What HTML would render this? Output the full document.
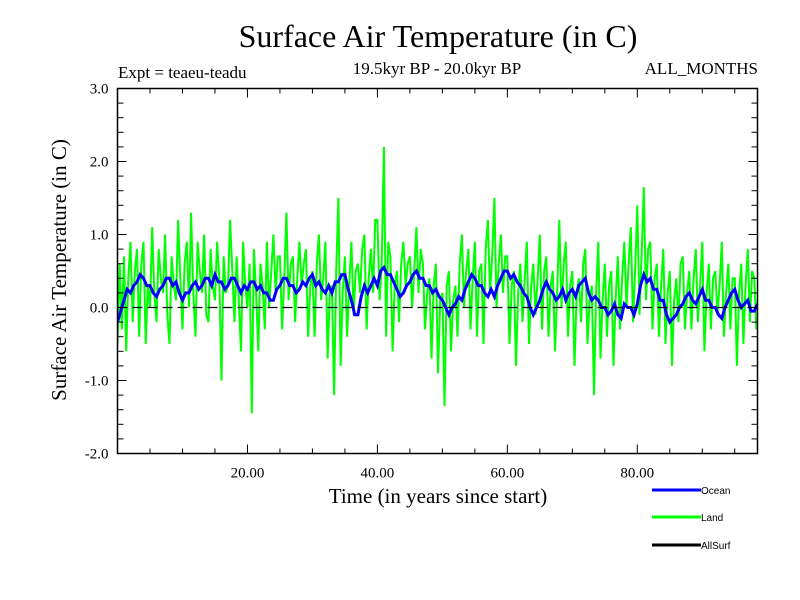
<!DOCTYPE html>
<html><head><meta charset="utf-8"><style>
body{margin:0;background:#fff}
svg{display:block}
</style></head><body>
<svg id="c" width="800" height="600" xmlns="http://www.w3.org/2000/svg">
<defs><clipPath id="pc"><rect x="117.5" y="88.5" width="640" height="365"/></clipPath></defs>
<rect width="800" height="600" fill="#fff"/>
<text x="438" y="47" font-family="Liberation Serif, serif" font-size="32" text-anchor="middle">Surface Air Temperature (in C)</text>
<text x="118" y="78" font-family="Liberation Serif, serif" font-size="17">Expt = teaeu-teadu</text>
<text x="437" y="74" font-family="Liberation Serif, serif" font-size="17" text-anchor="middle">19.5kyr BP - 20.0kyr BP</text>
<text x="758" y="74" font-family="Liberation Serif, serif" font-size="17" text-anchor="end">ALL_MONTHS</text>
<text x="438" y="503" font-family="Liberation Serif, serif" font-size="21" text-anchor="middle">Time (in years since start)</text>
<text transform="translate(66,270) rotate(-90)" font-family="Liberation Serif, serif" font-size="21" text-anchor="middle">Surface Air Temperature (in C)</text>
<g id="plot" clip-path="url(#pc)"></g>
<g id="axes"></g>
<g font-family="Liberation Sans, sans-serif" font-size="10">
<g><line x1="652" y1="490" x2="701" y2="490" stroke="#0000ff" stroke-width="3"/><text x="701" y="494">Ocean</text></g>
<g><line x1="652" y1="517" x2="701" y2="517" stroke="#00ff00" stroke-width="3"/><text x="701" y="521">Land</text></g>
<g><line x1="652" y1="545" x2="701" y2="545" stroke="#000" stroke-width="3"/><text x="701" y="549">AllSurf</text></g>
</g>
</svg>
<script>
const landStep = 1/3;
const landValues = [-0.5,0.6,-0.3,0.7,-0.6,0.4,0.9,-0.2,0.5,0.8,-0.4,0.6,0.9,-0.5,0.3,
0.0,1.1,0.2,-0.2,0.8,0.4,0.2,1.0,-0.1,-0.5,0.7,0.3,0.1,1.2,0.4,
-0.3,0.6,0.9,0.0,1.3,0.2,-0.4,0.9,0.5,0.2,1.0,-0.1,-0.2,0.8,0.3,
0.1,0.9,0.4,-1.0,0.7,0.2,0.3,1.2,0.5,-0.2,0.7,0.1,-0.6,0.9,0.3,
0.0,0.6,-1.45,0.8,0.2,-0.6,0.6,0.3,-0.3,0.9,0.0,0.5,1.0,0.2,0.7,
0.7,-0.3,0.4,1.3,0.1,0.6,0.7,-0.2,0.4,0.9,0.3,0.6,0.8,-0.4,0.3,
0.5,-0.4,0.6,1.0,0.1,0.4,0.9,-0.7,0.2,0.3,-1.2,0.5,1.5,-0.8,0.2,
0.7,-0.4,0.3,0.9,-0.1,0.5,0.6,0.2,0.8,1.0,-0.3,0.4,0.8,0.2,1.2,
1.2,0.1,0.6,2.2,-0.4,0.9,0.7,-0.6,0.3,0.5,-0.2,0.6,0.9,0.3,0.6,
0.7,0.0,0.5,1.1,0.2,0.8,0.6,-0.3,0.2,0.4,-0.7,0.3,0.6,-0.9,0.1,
0.2,-1.35,0.3,0.5,-0.6,0.1,0.3,-0.4,0.6,1.0,0.0,0.5,0.8,-0.3,0.4,
0.9,-0.4,0.5,0.6,-0.5,0.8,1.2,0.2,0.7,1.5,0.0,0.6,1.0,0.2,0.7,
0.7,-0.5,0.3,0.5,-0.8,0.2,0.6,-0.2,0.4,0.9,-0.5,0.3,0.6,-0.1,0.4,
1.0,-0.3,0.5,0.7,-0.4,0.3,0.5,-0.6,0.2,1.2,0.0,0.6,0.9,-0.4,0.3,
0.5,-0.8,0.2,0.4,-0.2,0.6,0.8,-0.5,0.1,0.3,-1.2,0.2,0.9,-0.7,0.1,
0.6,-0.4,0.3,0.5,-0.8,0.1,0.7,-0.3,0.4,0.9,0.0,0.6,1.1,-0.2,0.5,
1.4,-0.1,0.7,1.65,0.1,0.8,0.9,-0.3,0.4,0.6,-0.4,0.3,0.8,-0.5,0.2,
0.5,-0.8,0.1,0.4,-0.2,0.6,0.7,-0.3,0.2,0.5,-0.3,0.4,0.8,-0.2,0.3,
0.9,-0.6,0.2,0.6,-0.3,0.4,0.5,-0.1,0.3,0.9,-0.4,0.2,0.6,-0.3,0.4,
0.4,-0.8,0.2,0.6,-0.5,0.3,0.8,-0.2,0.5,0.4,-0.3];
const oceanStep = 0.5;
const oceanValues = [-0.2,-0.05,0.1,0.25,0.2,0.3,0.35,0.45,0.4,0.3,0.3,0.2,0.15,0.25,0.3,0.4,0.4,0.3,0.35,0.2,
0.1,0.2,0.2,0.3,0.35,0.25,0.3,0.4,0.4,0.3,0.45,0.35,0.35,0.25,0.3,0.4,0.4,0.3,0.2,0.3,
0.25,0.35,0.35,0.25,0.3,0.2,0.2,0.1,0.1,0.25,0.3,0.4,0.4,0.3,0.3,0.2,0.25,0.35,0.3,0.4,
0.45,0.3,0.35,0.25,0.2,0.3,0.2,0.35,0.35,0.45,0.45,0.25,0.1,-0.1,-0.1,0.15,0.3,0.2,0.3,0.4,
0.3,0.5,0.55,0.45,0.45,0.35,0.25,0.15,0.2,0.3,0.35,0.45,0.5,0.4,0.4,0.3,0.3,0.2,0.25,0.15,
0.1,0.0,-0.1,0.0,0.05,0.15,0.1,0.25,0.35,0.45,0.4,0.3,0.3,0.2,0.15,0.25,0.15,0.3,0.4,0.5,
0.5,0.4,0.45,0.35,0.3,0.2,0.15,0.0,-0.1,0.0,0.1,0.25,0.35,0.25,0.2,0.1,0.15,0.25,0.1,0.2,
0.25,0.15,0.3,0.35,0.4,0.2,0.1,0.15,0.1,0.0,0.0,-0.1,-0.05,0.05,-0.1,-0.15,0.05,0.0,0.0,-0.1,
0.05,0.3,0.45,0.35,0.4,0.25,0.25,0.1,0.1,-0.1,-0.2,-0.15,-0.1,0.0,0.05,0.15,0.2,0.1,0.05,0.15,
0.25,0.1,0.1,0.0,0.0,-0.1,-0.15,0.0,0.1,0.2,0.25,0.1,0.0,0.05,0.1,-0.05,-0.05,0.05];
const xTicks = [20,40,60,80];
const xTickLabels = ["20.00","40.00","60.00","80.00"];
const yTicks = [-2,-1,0,1,2,3];
const yTickLabels = ["-2.0","-1.0","0.0","1.0","2.0","3.0"];

const X0=117.5, X1=757.5, Y0=453.5, Y1=88.5, XMAX=98.5, YMIN=-2, YMAX=3;
const sx = v => X0 + v/XMAX*(X1-X0);
const sy = v => Y0 - (v-YMIN)/(YMAX-YMIN)*(Y0-Y1);
const NS="http://www.w3.org/2000/svg";
const plot=document.getElementById('plot'), axes=document.getElementById('axes');
function mk(tag, attrs, parent){const e=document.createElementNS(NS,tag);for(const k in attrs)e.setAttribute(k,attrs[k]);parent.appendChild(e);return e;}

function series(vals, step, color, w, name){
  const pts = vals.map((v,i)=>sx(i*step).toFixed(1)+','+sy(v).toFixed(1)).join(' ');
  const p = mk('polyline',{points:pts,fill:'none',stroke:color,'stroke-width':w,'stroke-linejoin':'miter'},plot);
  
  
}
series(landValues, landStep, '#00ff00', 2, 'land-series');
series(oceanValues, oceanStep, '#0000ff', 3, 'ocean-series');

const zl = mk('line',{x1:X0,x2:X1,y1:sy(0),y2:sy(0),stroke:'#000','stroke-dasharray':'10,5','stroke-width':1.2},plot);



const frame = mk('rect',{x:X0,y:Y1,width:X1-X0,height:Y0-Y1,fill:'none',stroke:'#000','stroke-width':1.5},axes);



for(let v=YMIN; v<=YMAX+1e-9; v+=0.2){
  const y=sy(v), major=Math.abs(v-Math.round(v))<1e-6, L=major?9:6;
  mk('line',{x1:X0,x2:X0+L,y1:y,y2:y,stroke:'#000'},axes);
  mk('line',{x1:X1,x2:X1-L,y1:y,y2:y,stroke:'#000'},axes);
}
yTicks.forEach((v,i)=>{
  const t=mk('text',{x:X0-9,y:sy(v)+5,'text-anchor':'end','font-family':'Liberation Serif, serif','font-size':15},axes);
  t.textContent=yTickLabels[i];
  
  
});
for(let v=5; v<XMAX; v+=5){
  const x=sx(v), major=v%20===0, L=major?9:5;
  mk('line',{x1:x,x2:x,y1:Y0,y2:Y0-L,stroke:'#000'},axes);
  mk('line',{x1:x,x2:x,y1:Y1,y2:Y1+L,stroke:'#000'},axes);
}
xTicks.forEach((v,i)=>{
  const t=mk('text',{x:sx(v),y:Y0+24,'text-anchor':'middle','font-family':'Liberation Serif, serif','font-size':15},axes);
  t.textContent=xTickLabels[i];
  
  
});
</script>
</body></html>
